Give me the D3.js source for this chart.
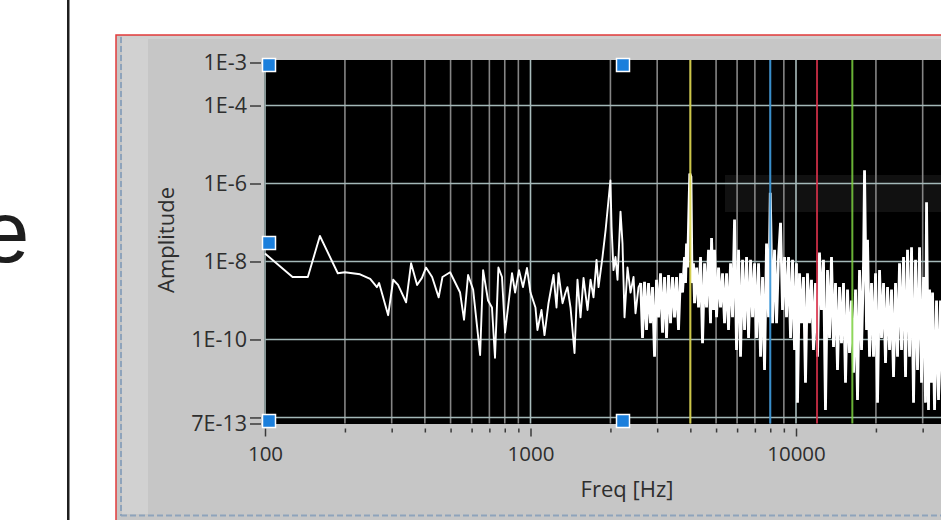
<!DOCTYPE html>
<html>
<head>
<meta charset="utf-8">
<script src="https://cdn.jsdelivr.net/npm/d3@7/dist/d3.min.js"></script>
<style>
html,body{margin:0;padding:0;background:#ffffff;overflow:hidden;}
svg{display:block;}
</style>
</head>
<body>
<svg id="chart" width="941" height="520"></svg>
<script>
// ---------------- DATA ----------------
const freqHz = [
  100,127,145,161,188,200,228,249,264,269,
  291,304,317,340,355,374,390,404,426,451,
  466,498,543,562,582,608,646,663,692,716,
  735,757,781,802,852,875,905,937,970,1000,
  1044,1062,1100,1129,1169,1221,1253,1275,1320,1355,
  1378,1415,1465,1503,1543,1584,1640,1683,1727,1773,
  1804,1867,1918,2000,2020,2054,2090,2127,2183,2221,
  2260,2320,2381,2444,2486,2552,2600,2642,2688,2735,
  2783,2832,2881,2932,2983,3035,3088,3143,3198,3253,
  3310,3368,3427,3487,3548,3610,3674,3738,3803,3836,
  3870,3904,3937,3980,4020,4060,4110,4148,4223,4294,
  4369,4446,4524,4603,4683,4765,4807,4891,4933,5020,
  5108,5197,5288,5380,5475,5570,5668,5767,5868,5971,
  6075,6181,6290,6400,6512,6626,6742,6859,6980,7102,
  7226,7352,7481,7612,7745,7881,8000,8159,8302,8447,
  8595,8745,8898,9054,9212,9373,9537,9704,9874,10040,
  10131,10308,10489,10672,10858,11048,11241,11438,11638,11841,
  12048,12259,12473,12691,12913,13142,13372,13606,13844,14086,
  14333,14584,14839,15098,15363,15632,15906,16184,16468,16756,
  17050,17348,17652,17961,18118,18436,18595,18920,19250,19587,
  19930,20279,20634,20995,21363,21736,22117,22504,22898,23298,
  23706,24121,24543,24973,25410,25855,26307,26768,27236,27713,
  28198,28691,29192,29703,30223,30752,31020,31560,31840,32390,
  32680,33250,33830,34420,35020,35630,36200
];
const amplitude = [
  1.6e-8,4e-9,4e-9,4.5e-8,5e-9,5.3e-9,4.7e-9,3.6e-9,2.2e-9,2.8e-9,
  4.2e-10,3.4e-9,2.5e-9,9e-10,9e-9,2.5e-9,3.8e-9,7e-9,4e-9,1.2e-9,
  4e-9,5.3e-9,1.6e-9,3.2e-10,4.5e-9,1.9e-9,4e-11,6e-9,1e-9,6.6e-10,
  3.4e-11,7e-9,4e-9,1.5e-10,5e-9,1.6e-9,6e-9,2.2e-9,6.8e-9,1.6e-9,
  6.6e-10,1.75e-10,5.7e-10,1.3e-10,8.5e-10,4.5e-9,6.6e-10,5e-9,8.5e-10,1.6e-9,
  2.2e-9,6.6e-10,4.5e-11,3.4e-9,3.7e-10,3.8e-9,5.7e-10,3.4e-9,1.2e-9,1.1e-8,
  2.2e-9,1.3e-8,6.4e-8,1.2e-6,7.6e-8,6e-9,1.3e-8,3.4e-9,1.9e-7,2.9e-8,
  3.7e-10,7e-9,1.6e-9,4e-9,4.7e-10,2.2e-9,2.8e-9,1.1e-10,3e-9,1.75e-10,
  2.8e-9,2.6e-10,2.2e-9,3.6e-11,3.4e-9,3.7e-10,5e-9,1.5e-10,4e-9,1.1e-10,
  4.5e-9,2.6e-10,4e-9,3.7e-10,4e-9,1.75e-10,5e-9,1.6e-9,1.3e-8,2.8e-9,
  2.9e-8,7e-9,7.6e-8,1.8e-6,1.5e-6,2.8e-9,9e-9,8.5e-10,7e-9,6.6e-10,
  1.3e-8,8e-11,9e-9,6.6e-10,2e-8,2.6e-10,4e-8,5.7e-10,2e-8,3.7e-10,
  7e-9,6.6e-10,5e-9,2.6e-10,5e-9,1.75e-10,9e-9,3.7e-10,1.2e-7,5.4e-11,
  2e-8,3.6e-11,1.1e-8,1.75e-10,1.3e-8,1.1e-10,1.1e-8,3.7e-10,9e-9,1.1e-10,
  9e-9,3.6e-11,4e-9,1.65e-11,2.9e-8,3.7e-10,5.8e-7,2.6e-10,2e-8,2.6e-10,
  1.3e-8,9.8e-8,5.7e-10,1.3e-8,3.7e-10,1.3e-8,1.1e-10,1.1e-8,5.4e-11,9e-9,
  2.4e-12,5e-9,2.6e-10,4e-9,7.8e-12,5e-9,2.6e-10,3.4e-9,5.4e-11,2.8e-9,
  3.6e-11,1.7e-8,5.7e-10,1.1e-8,1.56e-12,6e-9,1.1e-10,1.3e-8,6.4e-11,2.8e-9,
  1.65e-11,2.2e-9,8e-11,2.8e-9,7.8e-12,1.9e-9,4.5e-11,1e-9,1.4e-11,1.9e-9,
  2.8e-12,6e-9,5.4e-11,9e-9,2.2e-6,1.75e-10,3.6e-8,3.6e-11,2.8e-9,3.6e-11,
  5e-9,2.4e-12,6e-9,1.1e-10,2.8e-9,2.5e-11,2.2e-9,5.4e-11,1.9e-9,1.1e-11,
  2.8e-9,3.6e-11,9e-9,5.4e-11,1.3e-8,1.1e-11,2e-8,3.6e-11,2.3e-8,2.4e-12,
  1.1e-8,1.65e-11,2.3e-8,7.8e-12,4e-9,2.4e-12,3.3e-7,1.56e-12,1.9e-9,7.8e-12,
  1.6e-9,1.56e-12,1e-9,2.8e-12,1e-9,2.8e-12,1e-9
];
const denseFromHz = 2600;   // above this frequency the spectrum is drawn as a packed band
const cursorFreqs  = [4000, 8000, 12000, 16300];
const cursorColors = ["#d8d13c", "#2a8ed6", "#d8304a", "#7bd040"];
const xDomain = [100, 50000];
const yDomain = [7e-13, 1.47e-3];
const xMajorTicks = [100, 1000, 10000];
const xMajorLabels = ["100", "1000", "10000"];
const xMinorTicks = [200,300,400,500,600,700,800,900,2000,3000,4000,5000,6000,7000,8000,9000,20000,30000,40000];
const yTickValues = [1.47e-3, 1e-4, 1e-6, 1e-8, 1e-10, 1e-12, 7e-13];
const yTickLabels = ["1E-3", "1E-4", "1E-6", "1E-8", "1E-10", "", "7E-13"];
const yGridValues = [1e-4, 1e-6, 1e-8, 1e-10, 1e-12];
const xTitle = "Freq [Hz]";
const yTitle = "Amplitude";

// ---------------- LAYOUT ----------------
const svg = d3.select("#chart");
const FONT = "'Segoe UI','Open Sans','Noto Sans',sans-serif";
const P = {left: 265, top: 60, bottom: 423.5, right: 941};

svg.append("rect").attr("width", 941).attr("height", 520).attr("fill", "#ffffff");

// partial slide text on the far left (cut by the slide edge, as in the original)
svg.append("text").attr("x", -19).attr("y", 262)
  .attr("font-family", "'Liberation Sans',Arial,sans-serif")
  .attr("font-size", 87).attr("fill", "#1e1e1e").text("e");
svg.append("rect").attr("x", 67).attr("y", 0).attr("width", 2.5).attr("height", 520).attr("fill", "#1e1e1e");

// panel
svg.append("rect").attr("x", 116).attr("y", 35).attr("width", 840).attr("height", 500)
  .attr("fill", "#c6c6c6").attr("stroke", "#e23b3b").attr("stroke-width", 1.5);
svg.append("rect").attr("x", 122).attr("y", 36).attr("width", 26).attr("height", 478).attr("fill", "#d1d1d1");
svg.append("rect").attr("x", 122).attr("y", 36).attr("width", 830).attr("height", 3).attr("fill", "#d0d0d0");
svg.append("line").attr("x1", 121).attr("x2", 121).attr("y1", 37).attr("y2", 516)
  .attr("stroke", "#8ea3bb").attr("stroke-width", 2).attr("stroke-dasharray", "6,3");
svg.append("line").attr("x1", 121).attr("x2", 941).attr("y1", 515.5).attr("y2", 515.5)
  .attr("stroke", "#8ea3bb").attr("stroke-width", 2).attr("stroke-dasharray", "6,3");

// scales
const x = d3.scaleLog().domain(xDomain).range([P.left, P.left + 265.5 * Math.log10(xDomain[1] / xDomain[0])]);
const y = d3.scaleLog().domain(yDomain).range([P.bottom, P.top]);

// plot background
svg.append("rect").attr("x", P.left - 1).attr("y", P.top).attr("width", P.right - P.left + 1)
  .attr("height", P.bottom - P.top + 0.5).attr("fill", "#000");
// faint legend box in plot
svg.append("rect").attr("x", 725).attr("y", 175).attr("width", 220).attr("height", 37).attr("fill", "#111111");

svg.append("defs").append("clipPath").attr("id", "pc")
  .append("rect").attr("x", P.left - 1).attr("y", P.top).attr("width", P.right - P.left + 1).attr("height", P.bottom - P.top + 1);
const plot = svg.append("g").attr("clip-path", "url(#pc)");

// grid
plot.selectAll("line.vmin").data(xMinorTicks).join("line").attr("class", "vmin")
  .attr("x1", d => x(d)).attr("x2", d => x(d)).attr("y1", P.top).attr("y2", P.bottom)
  .attr("stroke", "#858585").attr("stroke-width", 1.6);
plot.selectAll("line.vmaj").data(xMajorTicks).join("line").attr("class", "vmaj")
  .attr("x1", d => x(d)).attr("x2", d => x(d)).attr("y1", P.top).attr("y2", P.bottom)
  .attr("stroke", "#a9bcbc").attr("stroke-width", 1.6);
plot.selectAll("line.hgrid").data(yGridValues).join("line").attr("class", "hgrid")
  .attr("x1", P.left).attr("x2", P.right).attr("y1", d => y(d)).attr("y2", d => y(d))
  .attr("stroke", "#a3b8b8").attr("stroke-width", 1.6);

// trace: sparse low-frequency part and packed high-frequency band
const pts = freqHz.map((f, i) => [f, amplitude[i]]);
const lineGen = d3.line().x(d => x(d[0])).y(d => y(d[1]));
plot.append("path").datum(pts.filter(d => d[0] <= denseFromHz))
  .attr("d", lineGen).attr("fill", "none").attr("stroke", "#ffffff")
  .attr("stroke-width", 1.9).attr("stroke-linejoin", "round");
plot.append("path").datum(pts.filter(d => d[0] >= denseFromHz))
  .attr("d", lineGen).attr("fill", "none").attr("stroke", "#ffffff")
  .attr("stroke-width", 2.8).attr("stroke-linejoin", "miter").attr("stroke-miterlimit", 1);

// cursors
plot.selectAll("line.cursor").data(cursorFreqs).join("line").attr("class", "cursor")
  .attr("x1", d => x(d)).attr("x2", d => x(d)).attr("y1", P.top).attr("y2", P.bottom)
  .attr("stroke", (d, i) => cursorColors[i]).attr("stroke-width", 2).attr("stroke-opacity", 0.85);

// x axis
const xAxisG = svg.append("g").attr("transform", `translate(0,${P.bottom + 5})`);
xAxisG.call(d3.axisBottom(x).tickValues(xMajorTicks.concat(xMinorTicks)).tickSize(4)
  .tickFormat(d => { const k = xMajorTicks.indexOf(d); return k >= 0 ? xMajorLabels[k] : ""; }));
xAxisG.select(".domain").remove();
xAxisG.selectAll(".tick line").attr("stroke", "#3a3a3a").attr("stroke-width", 1.5)
  .attr("y2", d => xMajorTicks.indexOf(d) >= 0 ? 8 : 4);
xAxisG.selectAll(".tick text").attr("y", 18).attr("fill", "#2e2e2e")
  .attr("font-family", FONT).attr("font-size", 20.5);

// y axis
const yAxisG = svg.append("g").attr("transform", `translate(${P.left - 4},0)`);
yAxisG.call(d3.axisLeft(y).tickValues(yTickValues).tickSize(11).tickPadding(3)
  .tickFormat((d, i) => yTickLabels[i]));
yAxisG.select(".domain").remove();
yAxisG.selectAll(".tick line").attr("stroke", "#3a3a3a").attr("stroke-width", 1.5);
yAxisG.selectAll(".tick text").attr("fill", "#2e2e2e").attr("font-family", FONT).attr("font-size", 21.5);
yAxisG.selectAll(".tick").filter((d, i) => i === 0).attr("transform", `translate(0,${y(yTickValues[0]) + 3})`);

// axis titles
svg.append("text").attr("x", 627).attr("y", 497).attr("text-anchor", "middle")
  .attr("font-family", FONT).attr("font-size", 22).attr("fill", "#2e2e2e").text(xTitle);
svg.append("text").attr("transform", "translate(174,240) rotate(-90)").attr("text-anchor", "middle")
  .attr("font-family", FONT).attr("font-size", 22).attr("fill", "#2e2e2e").text(yTitle);

// selection handles
const handles = [[269, 65], [623, 65], [269, 243], [269, 421], [623, 421]];
svg.selectAll("rect.handle").data(handles).join("rect").attr("class", "handle")
  .attr("x", d => d[0] - 6.5).attr("y", d => d[1] - 6.5).attr("width", 13).attr("height", 13)
  .attr("fill", "#1b7fdc").attr("stroke", "#ffffff").attr("stroke-width", 1.5);
</script>
</body>
</html>
